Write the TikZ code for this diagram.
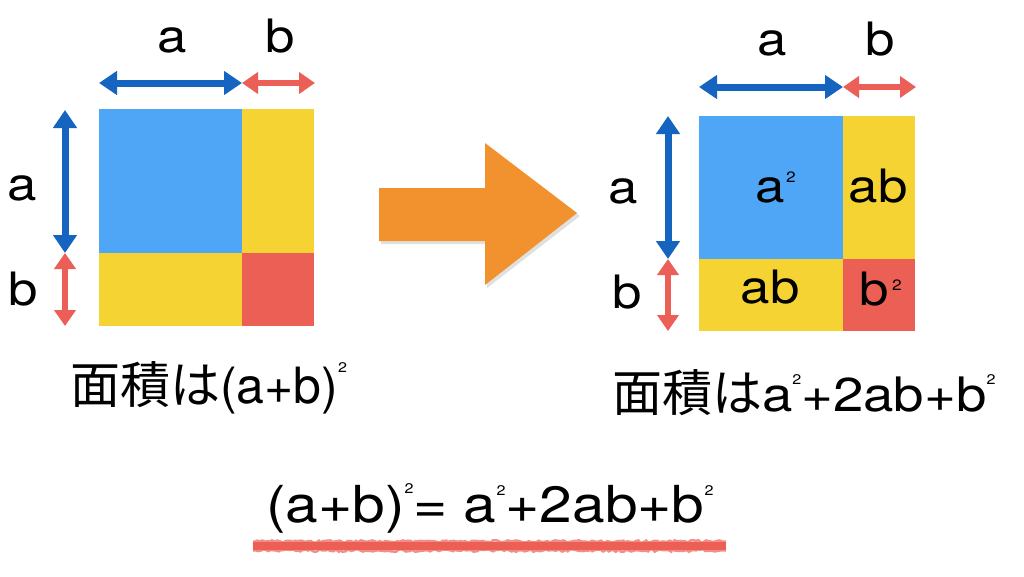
\documentclass[tikz,border=0pt]{standalone}
\usepackage{fontspec}
\setmainfont{TeX Gyre Heros}[FakeStretch=1.15]
\newfontfamily\hn{TeX Gyre Heros}
\newfontfamily\jp{Noto Sans CJK JP}
\usetikzlibrary{arrows.meta,decorations.pathmorphing}
\definecolor{cblue}{RGB}{79,166,247}
\definecolor{cyellow}{RGB}{245,211,51}
\definecolor{cred}{RGB}{236,95,84}
\definecolor{ablue}{RGB}{21,101,192}
\definecolor{ared}{RGB}{235,95,87}
\definecolor{corange}{RGB}{242,146,47}
\newcommand\sq[1]{\raisebox{#1}{\fontsize{14}{14}\selectfont 2}}
\begin{document}
\begin{tikzpicture}[x=1pt,y=-1pt,
  lbl/.style={inner sep=0pt,outer sep=0pt,anchor=base,font=\fontsize{46}{46}\selectfont},
  txt/.style={inner sep=0pt,outer sep=0pt,anchor=base west},
  sup/.style={inner sep=0pt,outer sep=0pt,font=\fontsize{15}{15}\selectfont},
  dimb/.style={ablue,line width=7pt,{Triangle[width=23pt,length=18pt]}-{Triangle[width=23pt,length=18pt]}},
  dimr/.style={ared,line width=6pt,{Triangle[width=21pt,length=16pt]}-{Triangle[width=21pt,length=16pt]}},
  marker/.style={cred,line width=2.5pt,opacity=0.7,decorate,decoration={random steps,segment length=2.5pt,amplitude=1.2pt}}]
\useasboundingbox (0,0) rectangle (1024,576);
\fill[white] (0,0) rectangle (1024,576);
% ---------- left square
\fill[cblue] (99,109) rectangle (242,253);
\fill[cyellow] (242,109) rectangle (314,253);
\fill[cyellow] (99,253) rectangle (242,326);
\fill[cred] (242,253) rectangle (314,326);
\coordinate (LT0) at (99,83); \coordinate (LT1) at (242,83); \coordinate (LT2) at (315,83);
\coordinate (LV0) at (65,110); \coordinate (LV1) at (65,253); \coordinate (LV2) at (65,326);
\draw[dimb] (LT0) -- (LT1);
\draw[dimr] (LT1) -- (LT2);
\draw[dimb] (LV0) -- (LV1);
\draw[dimr] (LV1) -- (LV2);
\node[lbl] (la1) at (172,52) {a};
\node[lbl] (lb1) at (280,52) {b};
\node[lbl] (la2) at (22,200) {a};
\node[lbl] (lb2) at (23,305) {b};
% ---------- orange arrow
\fill[black,opacity=0.12] (381,191) -- (487,191) -- (487,146) -- (580,216) -- (487,288) -- (487,244) -- (381,244) -- cycle;
\fill[corange] (379,188) -- (485,188) -- (485,143) -- (577,213) -- (485,285) -- (485,241) -- (379,241) -- cycle;
% ---------- right square
\fill[cblue] (699,116) rectangle (843,259);
\fill[cyellow] (843,116) rectangle (915,259);
\fill[cyellow] (699,259) rectangle (843,331);
\fill[cred] (843,259) rectangle (915,331);
\coordinate (RT0) at (699,87); \coordinate (RT1) at (843,87); \coordinate (RT2) at (916,87);
\coordinate (RV0) at (668,116); \coordinate (RV1) at (668,259); \coordinate (RV2) at (668,331);
\draw[dimb] (RT0) -- (RT1);
\draw[dimr] (RT1) -- (RT2);
\draw[dimb] (RV0) -- (RV1);
\draw[dimr] (RV1) -- (RV2);
\node[lbl] (ra1) at (772,55) {a};
\node[lbl] (rb1) at (880,55) {b};
\node[lbl] (ra2) at (623,203) {a};
\node[lbl] (rb2) at (627,308) {b};
\node[lbl] (ca) at (770,202) {a};
\node[sup] (ca2) at (791,177) {2};
\node[lbl] (cab1) at (878,202) {ab};
\node[lbl] (cab2) at (770,303) {ab};
\node[lbl] (cb) at (874,305) {b};
\node[sup] (cb2) at (897,285) {2};
% ---------- texts
\node[txt] (t1) at (70,403) {{\fontsize{50}{50}\selectfont\jp 面積は}{\fontsize{50}{50}\selectfont\hn (a+b)}\sq{31pt}};
\node[txt] (t2) at (612,411) {{\fontsize{50}{50}\selectfont\jp 面積は}{\fontsize{47.5}{47.5}\selectfont a\sq{27pt}+2ab+b\sq{27pt}}};
\node[txt] (t3) at (266,522) {\fontsize{51}{51}\selectfont (a+b)\sq{29pt}= a\sq{27pt}+2ab+b\sq{27pt}};
% ---------- underline
\pgfmathsetseed{7}
\coordinate (U0) at (253,546); \coordinate (U1) at (726,546);
\draw[cred,line width=8pt] (U0) -- (U1);
\draw[marker] ([yshift=-4.5pt]U0) -- ([yshift=-4.5pt]U1);
\draw[marker] ([yshift=4.5pt]U0) -- ([yshift=4.5pt]U1);
\end{tikzpicture}
\end{document}
